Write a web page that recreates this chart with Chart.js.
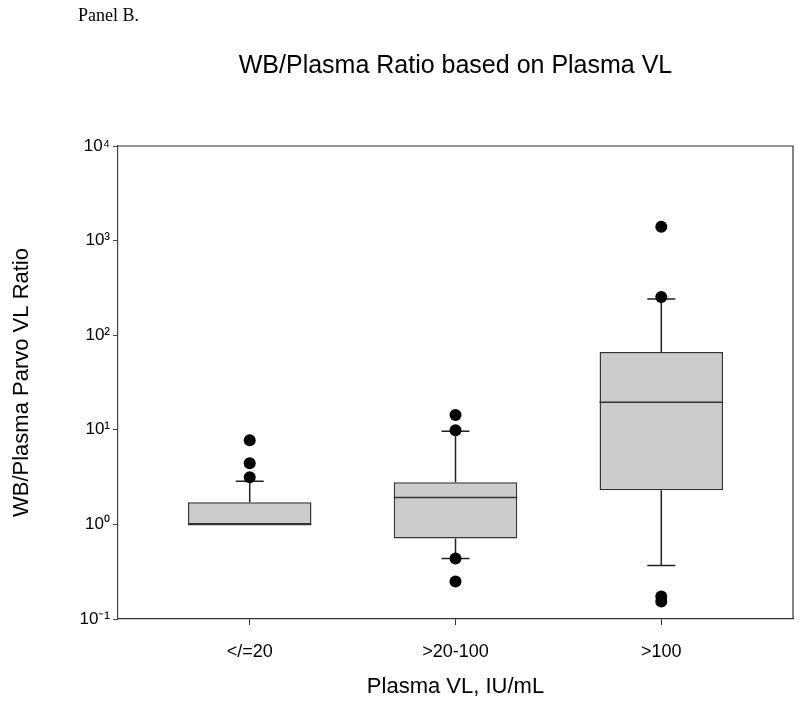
<!DOCTYPE html>
<html>
<head>
<meta charset="utf-8">
<title>WB/Plasma Ratio based on Plasma VL</title>
<script src="https://cdn.jsdelivr.net/npm/chart.js@4.4.1/dist/chart.umd.min.js"></script>
<style>
  html, body { margin: 0; padding: 0; background: #fff; }
  .wrap { position: relative; width: 800px; height: 702px; }
</style>
</head>
<body>
<div class="wrap"><canvas id="boxChart"></canvas></div>
<script>
// Box plot: WB/Plasma ratio by plasma VL group
const categories = ['</=20', '>20-100', '>100'];
const q1 = [1.0, 0.71, 2.29];
const medians = [1.0, 1.93, 19.6];
const q3 = [1.71, 2.79, 66.4];
const whiskerLow = [1.0, 0.436, 0.368];
const whiskerHigh = [2.85, 9.67, 241];
const outliers1 = [7.76, 4.43, 3.15];
const outliers2 = [14.3, 9.9, 0.436, 0.249];
const outliers3 = [1400, 254, 0.173, 0.153];
const yTicks = [0.1, 1, 10, 100, 1000, 10000];
const yTickLabels = ['10⁻¹', '10⁰', '10¹', '10²', '10³', '10⁴'];

const panelLabel = 'Panel B.';
const chartTitle = 'WB/Plasma Ratio based on Plasma VL';
const xTitle = 'Plasma VL, IU/mL';
const yTitle = 'WB/Plasma Parvo VL Ratio';

const SANS = '"Liberation Sans", Arial, sans-serif';
Chart.defaults.font.family = SANS;
Chart.defaults.color = '#000';

const boxes = categories.map((c, i) => ({ x: i + 1, y: [q1[i], q3[i]] }));
const points = [outliers1, outliers2, outliers3]
  .flatMap((arr, i) => arr.map(v => ({ x: i + 1, y: v })));

// whiskers, caps, medians, plot frame and titles
const boxParts = {
  id: 'boxParts',
  beforeDatasetsDraw(chart) {
    const { ctx, scales: { x, y } } = chart;
    const cap = 14;
    ctx.save();
    ctx.strokeStyle = '#222';
    ctx.lineWidth = 1.5;
    categories.forEach((c, i) => {
      const px = x.getPixelForValue(i + 1);
      ctx.beginPath();
      ctx.moveTo(px, y.getPixelForValue(q3[i]));
      ctx.lineTo(px, y.getPixelForValue(whiskerHigh[i]));
      ctx.moveTo(px - cap, y.getPixelForValue(whiskerHigh[i]));
      ctx.lineTo(px + cap, y.getPixelForValue(whiskerHigh[i]));
      if (whiskerLow[i] < q1[i]) {
        ctx.moveTo(px, y.getPixelForValue(q1[i]));
        ctx.lineTo(px, y.getPixelForValue(whiskerLow[i]));
        ctx.moveTo(px - cap, y.getPixelForValue(whiskerLow[i]));
        ctx.lineTo(px + cap, y.getPixelForValue(whiskerLow[i]));
      }
      ctx.stroke();
    });
    ctx.restore();
  },
  afterDatasetDraw(chart, args) {
    if (args.index !== 0) return;
    const { ctx, scales: { y } } = chart;
    const bars = chart.getDatasetMeta(0).data;
    ctx.save();
    ctx.strokeStyle = '#333';
    ctx.lineWidth = 1.5;
    bars.forEach((bar, i) => {
      const py = y.getPixelForValue(medians[i]);
      ctx.beginPath();
      ctx.moveTo(bar.x - bar.width / 2, py);
      ctx.lineTo(bar.x + bar.width / 2, py);
      ctx.stroke();
    });
    ctx.restore();
  },
  afterDraw(chart) {
    const { ctx, chartArea: a } = chart;
    ctx.save();
    ctx.strokeStyle = '#333';
    ctx.lineWidth = 1.2;
    ctx.beginPath();
    ctx.moveTo(a.left, a.top);
    ctx.lineTo(a.right, a.top);
    ctx.lineTo(a.right, a.bottom);
    ctx.stroke();
    ctx.fillStyle = '#000';
    ctx.textBaseline = 'alphabetic';
    ctx.textAlign = 'center';
    ctx.font = '25px ' + SANS;
    ctx.fillText(chartTitle, (a.left + a.right) / 2, 73);
    ctx.textAlign = 'left';
    ctx.font = '18px "Liberation Serif", "Times New Roman", serif';
    ctx.fillText(panelLabel, 78, 21);
    ctx.restore();
  }
};

new Chart(document.getElementById('boxChart'), {
  type: 'bar',
  data: {
    datasets: [{
      type: 'bar',
      data: boxes,
      backgroundColor: '#cccccc',
      borderColor: '#333',
      borderWidth: 1.5,
      borderSkipped: false,
      barPercentage: 0.6,
      categoryPercentage: 1.0
    }, {
      type: 'scatter',
      data: points,
      pointRadius: 6,
      pointBackgroundColor: '#000',
      pointBorderWidth: 0
    }]
  },
  options: {
    responsive: true,
    maintainAspectRatio: false,
    animation: false,
    layout: { padding: { top: 146, right: 7, bottom: 0, left: 0 } },
    plugins: {
      legend: { display: false },
      tooltip: { enabled: false },
      title: { display: false }
    },
    scales: {
      x: {
        type: 'linear',
        offset: false,
        min: 0.36,
        max: 3.64,
        afterBuildTicks: s => { s.ticks = categories.map((c, i) => ({ value: i + 1 })); },
        afterFit: s => { s.height = 83; },
        ticks: {
          autoSkip: false,
          maxRotation: 0,
          padding: 16,
          font: { size: 18 },
          callback: (v, i) => categories[i]
        },
        grid: { offset: false, drawOnChartArea: false, drawTicks: true, tickLength: 6, color: '#333' },
        border: { color: '#333', width: 1.2 },
        title: { display: true, text: xTitle, font: { size: 22 }, padding: { top: 0, bottom: 2 } }
      },
      y: {
        type: 'logarithmic',
        min: 0.1,
        max: 10000,
        afterBuildTicks: s => { s.ticks = yTicks.map(v => ({ value: v })); },
        afterFit: s => { s.width = 118; },
        ticks: {
          padding: 3,
          font: { size: 17 },
          callback: (v, i) => yTickLabels[i]
        },
        grid: { drawOnChartArea: false, drawTicks: true, tickLength: 5, color: '#444' },
        border: { color: '#444', width: 1.2 },
        title: { display: true, text: yTitle, font: { size: 22 }, padding: { top: 9, bottom: 0 } }
      }
    }
  },
  plugins: [boxParts]
});
</script>
</body>
</html>
